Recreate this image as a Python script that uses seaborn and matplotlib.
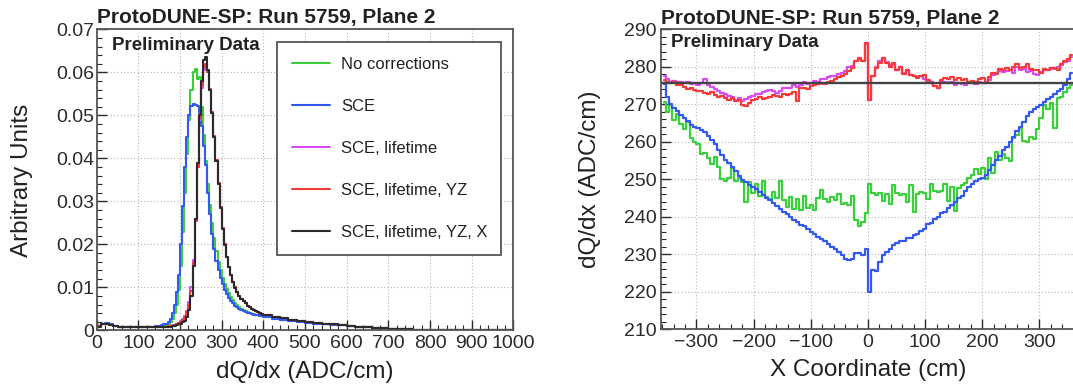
import numpy as np
import pandas as pd
import matplotlib
matplotlib.use('Agg')
import matplotlib.pyplot as plt
import matplotlib.ticker as mticker
import seaborn as sns

# ---- left panel: dQ/dx distributions (bin heights, arbitrary units) ----
# binning: 10 ADC/cm up to 150, 5 ADC/cm through the peak, 20 ADC/cm in the tail
dqdx_edges = np.concatenate([np.arange(0, 150, 10), np.arange(150, 400, 5), np.arange(400, 1001, 20)])
dqdx_centers = (dqdx_edges[:-1] + dqdx_edges[1:]) / 2

h_nocorr = [0.0010, 0.0015, 0.0016, 0.0013, 0.0010, 0.0009, 0.0008, 0.0008, 0.0008, 0.0008,
            0.0008, 0.0008, 0.0008, 0.0009, 0.0009,
            0.0010, 0.0010, 0.0011, 0.0013, 0.0016, 0.0020, 0.0027, 0.0040, 0.0060, 0.0095,
            0.0150, 0.0230, 0.0320, 0.0410, 0.0490, 0.0560, 0.0600, 0.0607, 0.0585, 0.0590,
            0.0520, 0.0455, 0.0395, 0.0340, 0.0292, 0.0250, 0.0215, 0.0185, 0.0160, 0.0140,
            0.0123, 0.0109, 0.0097, 0.0087, 0.0078, 0.0071, 0.0065, 0.0060, 0.0055, 0.0051,
            0.0048, 0.0045, 0.0043, 0.0041, 0.0039, 0.0038, 0.0036, 0.0035, 0.0034, 0.0033,
            0.0031, 0.0027, 0.0024, 0.0022, 0.0020, 0.0018, 0.0016, 0.0015, 0.0013, 0.0012,
            0.0010, 0.0009, 0.0008, 0.0006, 0.0005, 0.0004, 0.0003, 0.0003, 0.0002, 0.0002,
            0.0002, 0.0001, 0.0001, 0.0001, 0.0001, 0.0001, 0.0001, 0.0001, 0.0001, 0.0001]
h_sce = [0.0011, 0.0016, 0.0017, 0.0014, 0.0011, 0.0009, 0.0009, 0.0008, 0.0008, 0.0008,
         0.0008, 0.0009, 0.0009, 0.0009, 0.0010,
         0.0011, 0.0012, 0.0014, 0.0016, 0.0020, 0.0027, 0.0040, 0.0060, 0.0090, 0.0130,
         0.0200, 0.0290, 0.0380, 0.0450, 0.0500, 0.0522, 0.0527, 0.0525, 0.0521, 0.0505,
         0.0475, 0.0430, 0.0385, 0.0320, 0.0270, 0.0225, 0.0190, 0.0162, 0.0140, 0.0122,
         0.0107, 0.0095, 0.0085, 0.0076, 0.0069, 0.0063, 0.0058, 0.0054, 0.0051, 0.0048,
         0.0045, 0.0043, 0.0041, 0.0040, 0.0038, 0.0037, 0.0036, 0.0035, 0.0034, 0.0033,
         0.0031, 0.0027, 0.0024, 0.0022, 0.0020, 0.0018, 0.0016, 0.0015, 0.0013, 0.0012,
         0.0010, 0.0009, 0.0007, 0.0006, 0.0005, 0.0004, 0.0003, 0.0003, 0.0002, 0.0002,
         0.0002, 0.0001, 0.0001, 0.0001, 0.0001, 0.0001, 0.0001, 0.0001, 0.0001, 0.0001]
h_sce_lt = [0.0010, 0.0015, 0.0016, 0.0013, 0.0010, 0.0009, 0.0008, 0.0008, 0.0008, 0.0008,
            0.0008, 0.0008, 0.0008, 0.0008, 0.0008,
            0.0008, 0.0008, 0.0009, 0.0009, 0.0010, 0.0011, 0.0012, 0.0013, 0.0015, 0.0018,
            0.0022, 0.0027, 0.0034, 0.0046, 0.0066, 0.0100, 0.0165, 0.0260, 0.0380, 0.0490,
            0.0565, 0.0605, 0.0615, 0.0600, 0.0560, 0.0505, 0.0450, 0.0395, 0.0340, 0.0287,
            0.0237, 0.0200, 0.0171, 0.0148, 0.0129, 0.0113, 0.0100, 0.0090, 0.0081, 0.0074,
            0.0068, 0.0063, 0.0058, 0.0054, 0.0051, 0.0048, 0.0045, 0.0043, 0.0041, 0.0039,
            0.0036, 0.0032, 0.0028, 0.0025, 0.0022, 0.0020, 0.0018, 0.0016, 0.0014, 0.0012,
            0.0010, 0.0009, 0.0008, 0.0006, 0.0005, 0.0004, 0.0003, 0.0003, 0.0002, 0.0002,
            0.0002, 0.0001, 0.0001, 0.0001, 0.0001, 0.0001, 0.0001, 0.0001, 0.0001, 0.0001]
h_sce_lt_yz = [0.0010, 0.0015, 0.0016, 0.0013, 0.0010, 0.0009, 0.0008, 0.0008, 0.0008, 0.0008,
               0.0008, 0.0008, 0.0008, 0.0008, 0.0008,
               0.0008, 0.0008, 0.0009, 0.0009, 0.0010, 0.0010, 0.0011, 0.0012, 0.0014, 0.0017,
               0.0020, 0.0025, 0.0031, 0.0042, 0.0060, 0.0092, 0.0158, 0.0255, 0.0380, 0.0495,
               0.0572, 0.0612, 0.0620, 0.0602, 0.0562, 0.0507, 0.0452, 0.0397, 0.0342, 0.0288,
               0.0238, 0.0200, 0.0171, 0.0148, 0.0129, 0.0113, 0.0100, 0.0090, 0.0081, 0.0074,
               0.0068, 0.0063, 0.0058, 0.0054, 0.0051, 0.0048, 0.0045, 0.0043, 0.0041, 0.0039,
               0.0036, 0.0032, 0.0028, 0.0025, 0.0022, 0.0020, 0.0018, 0.0016, 0.0014, 0.0012,
               0.0010, 0.0009, 0.0008, 0.0006, 0.0005, 0.0004, 0.0003, 0.0003, 0.0002, 0.0002,
               0.0002, 0.0001, 0.0001, 0.0001, 0.0001, 0.0001, 0.0001, 0.0001, 0.0001, 0.0001]
h_sce_lt_yz_x = [0.0009, 0.0014, 0.0015, 0.0012, 0.0010, 0.0008, 0.0008, 0.0007, 0.0007, 0.0007,
                 0.0007, 0.0007, 0.0007, 0.0007, 0.0007,
                 0.0007, 0.0008, 0.0008, 0.0008, 0.0009, 0.0009, 0.0010, 0.0011, 0.0012, 0.0014,
                 0.0016, 0.0019, 0.0023, 0.0032, 0.0048, 0.0080, 0.0150, 0.0260, 0.0390, 0.0500,
                 0.0580, 0.0630, 0.0636, 0.0605, 0.0560, 0.0505, 0.0450, 0.0395, 0.0340, 0.0285,
                 0.0235, 0.0198, 0.0170, 0.0147, 0.0128, 0.0112, 0.0099, 0.0089, 0.0081, 0.0074,
                 0.0068, 0.0063, 0.0058, 0.0054, 0.0051, 0.0048, 0.0045, 0.0043, 0.0041, 0.0039,
                 0.0036, 0.0032, 0.0028, 0.0025, 0.0022, 0.0020, 0.0018, 0.0016, 0.0014, 0.0012,
                 0.0010, 0.0009, 0.0008, 0.0006, 0.0005, 0.0004, 0.0003, 0.0003, 0.0002, 0.0002,
                 0.0002, 0.0001, 0.0001, 0.0001, 0.0001, 0.0001, 0.0001, 0.0001, 0.0001, 0.0001]

# ---- right panel: mean dQ/dx vs drift coordinate, 6 cm bins ----
x_centers = np.arange(-357, 358, 6)

p_nocorr = [270.5, 268.0, 269.8, 265.8, 267.5, 264.6, 263.5, 265.2, 261.0, 260.0,
            259.4, 256.8, 257.0, 255.6, 254.0, 256.0, 253.2, 250.0, 249.5, 250.4,
            253.0, 249.6, 250.2, 249.2, 243.8, 249.3, 246.2, 248.8, 245.4, 249.6,
            245.2, 244.8, 246.6, 245.0, 249.6, 244.4, 242.6, 245.2, 242.0, 244.6,
            241.8, 245.5, 242.4, 243.0, 241.8, 245.0, 247.0, 244.6, 244.0, 245.2,
            244.4, 246.0, 243.4, 243.6, 243.2, 245.6, 239.2, 237.4, 238.6, 241.0,
            248.6, 246.2, 245.8, 246.4, 244.2, 246.0, 243.4, 248.4, 246.2, 245.8,
            246.0, 244.0, 248.4, 241.2, 246.0, 246.6, 246.4, 244.6, 248.6, 246.8,
            246.6, 246.9, 248.6, 244.2, 247.8, 241.6, 247.6, 248.4, 249.0, 250.2,
            251.0, 252.6, 251.4, 253.0, 250.0, 255.6, 251.6, 257.2, 255.0, 256.6,
            255.6, 254.8, 261.0, 261.8, 263.6, 260.2, 260.0, 261.2, 260.8, 263.4,
            266.2, 269.8, 268.8, 270.2, 263.6, 271.6, 272.0, 273.2, 274.2, 275.0]
p_sce = [275.5, 272.0, 270.0, 269.0, 268.2, 267.2, 266.3, 265.4, 264.5, 264.0,
         263.6, 263.2, 262.6, 261.6, 260.4, 259.3, 257.8, 256.4, 255.2, 254.3,
         253.2, 252.3, 250.8, 249.8, 249.2, 248.5, 247.9, 247.3, 246.5, 245.8,
         245.0, 244.4, 243.6, 242.9, 242.1, 241.3, 240.6, 239.8, 239.2, 238.5,
         237.9, 237.4, 236.6, 236.0, 235.5, 234.6, 234.1, 233.5, 232.8, 232.0,
         231.5, 230.6, 229.8, 228.6, 228.5, 228.6, 230.2, 230.4, 229.8, 231.5,
         220.0, 225.8, 225.4, 228.0, 229.8, 230.6, 231.5, 232.4, 233.0, 233.4,
         233.6, 234.2, 234.4, 235.0, 235.4, 236.3, 236.6, 238.0, 238.4, 239.4,
         239.8, 240.9, 241.2, 242.3, 243.0, 243.8, 245.0, 245.6, 246.8, 247.8,
         248.6, 249.4, 250.0, 250.4, 251.0, 252.4, 253.8, 255.0, 256.2, 257.8,
         258.6, 260.0, 261.2, 262.8, 264.0, 265.2, 266.8, 267.8, 268.6, 269.2,
         269.8, 270.6, 271.4, 272.0, 272.8, 273.4, 274.0, 275.0, 276.8, 278.4]
p_sce_lt = [277.4, 276.6, 276.0, 276.2, 275.8, 276.0, 275.6, 275.8, 275.4, 275.6,
            275.2, 275.6, 276.8, 275.0, 274.6, 274.0, 273.6, 273.0, 272.6, 272.2,
            271.8, 271.2, 271.6, 270.8, 271.4, 272.0, 272.2, 272.6, 272.6, 273.2,
            273.6, 273.8, 273.4, 273.0, 273.6, 274.2, 274.4, 274.2, 275.0, 274.6,
            275.2, 275.8, 275.4, 275.6, 276.2, 276.0, 276.6, 276.8, 277.2, 277.6,
            277.4, 278.0, 278.4, 278.8, 279.8, 280.2, 281.4, 282.0, 281.6, 286.0,
            271.0, 277.6, 279.8, 281.4, 282.2, 281.2, 280.4, 280.8, 279.2, 279.8,
            278.4, 279.0, 277.8, 277.4, 277.2, 277.6, 276.6, 275.8, 276.0, 274.8,
            274.4, 275.8, 276.0, 275.6, 275.8, 275.2, 275.6, 275.4, 275.2, 275.6,
            276.0, 275.4, 276.0, 275.6, 275.8, 276.4, 277.8, 278.4, 278.8, 278.6,
            278.8, 279.2, 278.4, 279.8, 279.0, 279.4, 278.6, 278.8, 278.0, 277.8,
            278.6, 279.0, 279.2, 279.6, 279.4, 280.0, 280.4, 281.2, 281.6, 282.6]
p_sce_lt_yz = [276.4, 276.0, 275.6, 275.8, 275.0, 275.2, 274.6, 274.0, 274.4, 273.8,
               273.4, 273.6, 273.0, 272.8, 273.2, 272.4, 272.0, 272.2, 271.6, 271.2,
               271.6, 270.8, 271.0, 269.8, 269.6, 270.4, 271.0, 271.4, 271.8, 271.4,
               271.6, 272.0, 272.4, 272.2, 272.0, 272.6, 272.4, 272.8, 273.2, 270.8,
               274.2, 274.4, 274.0, 274.8, 275.0, 275.4, 275.6, 275.4, 276.0, 276.2,
               276.6, 277.2, 277.4, 278.0, 278.8, 279.6, 281.6, 282.2, 281.4, 286.2,
               271.0, 277.4, 279.6, 281.0, 282.2, 281.0, 280.0, 281.0, 279.0, 280.0,
               278.0, 279.0, 277.8, 277.4, 277.0, 277.4, 277.8, 276.4, 275.6, 274.8,
               274.4, 276.4, 277.0, 276.8, 277.2, 276.4, 277.0, 276.4, 276.6, 276.0,
               276.2, 276.0, 276.6, 277.0, 275.6, 277.2, 278.2, 278.0, 279.4, 279.2,
               279.6, 279.2, 280.0, 280.8, 279.6, 279.8, 280.6, 279.4, 279.2, 279.0,
               278.4, 279.4, 279.0, 279.6, 279.6, 279.2, 280.8, 281.6, 282.0, 283.2]
# after the X correction the profile is flat
p_sce_lt_yz_x_level = 275.6

labels = ['No corrections', 'SCE', 'SCE, lifetime', 'SCE, lifetime, YZ', 'SCE, lifetime, YZ, X']
colors = ['#3ccf3c', '#3358f4', '#d94cf5', '#f53a3a', '#2b2b2b']

sns.set_theme(style='ticks')
plt.rcParams['font.family'] = ['Liberation Sans', 'DejaVu Sans']
plt.rcParams['axes.unicode_minus'] = True

fig = plt.figure(figsize=(10.73, 3.85), dpi=100)
ax1 = fig.add_axes([0.0901, 0.1416, 0.3883, 0.7818])
ax2 = fig.add_axes([0.6160, 0.1449, 0.3858, 0.7792])


def style_axes(ax):
    ax.set_axisbelow(True)
    ax.grid(True, which='major', color='#b8b8b8', linestyle=(0, (1, 2)), linewidth=0.8)
    ax.tick_params(which='both', direction='in', colors='#2a2a2a', labelsize=14,
                   top=False, right=False)
    ax.tick_params(which='major', length=7, width=1)
    ax.tick_params(which='minor', length=3.5, width=0.8)
    for s in ax.spines.values():
        s.set_color('#555555')
        s.set_linewidth(1.3)


# left: step histograms
hist_sets = [h_nocorr, h_sce, h_sce_lt, h_sce_lt_yz, h_sce_lt_yz_x]
for vals, col, lab in zip(hist_sets, colors, labels):
    df_h = pd.DataFrame({'dqdx': dqdx_centers, 'height': vals})
    sns.histplot(data=df_h, x='dqdx', weights='height', bins=list(dqdx_edges), element='step',
                 fill=False, color=col, linewidth=1.5, label=lab, ax=ax1)

style_axes(ax1)
ax1.set_xlim(0, 1000)
ax1.set_ylim(0, 0.07)
ax1.xaxis.set_major_locator(mticker.MultipleLocator(100))
ax1.xaxis.set_minor_locator(mticker.MultipleLocator(20))
ax1.yaxis.set_major_locator(mticker.MultipleLocator(0.01))
ax1.yaxis.set_minor_locator(mticker.MultipleLocator(0.002))
ax1.yaxis.set_major_formatter(mticker.FuncFormatter(lambda v, p: '0' if abs(v) < 1e-9 else f'{v:.2f}'))
ax1.tick_params(axis='y', pad=2)
ax1.set_xlabel('dQ/dx (ADC/cm)', fontsize=17.5, color='#222222')
ax1.set_ylabel('Arbitrary Units', fontsize=17.5, color='#222222')
ax1.xaxis.set_label_coords(0.5, -0.10)
ax1.yaxis.set_label_coords(-0.153, 0.5)
ax1.text(0, 1.008, 'ProtoDUNE-SP: Run 5759, Plane 2', transform=ax1.transAxes,
         ha='left', va='bottom', fontsize=15, fontweight='bold', color='#222222')
ax1.text(0.037, 0.948, 'Preliminary Data', transform=ax1.transAxes,
         ha='left', va='center', fontsize=13.5, fontweight='bold', color='#222222')
leg = ax1.legend(loc='upper left', bbox_to_anchor=(0.433, 0.96, 0.537, 0.0), mode='expand',
                 fontsize=12, frameon=True, fancybox=False, edgecolor='#555555', framealpha=1,
                 handlelength=2.25, handletextpad=0.7, labelspacing=1.62, borderpad=0.9,
                 borderaxespad=0)
leg.get_frame().set_linewidth(1.3)
for t in leg.get_texts():
    t.set_color('#222222')

# right: profiles vs X
prof_sets = [p_nocorr, p_sce, p_sce_lt, p_sce_lt_yz]
for vals, col in zip(prof_sets, colors[:4]):
    df_p = pd.DataFrame({'x': x_centers, 'dqdx': vals})
    sns.lineplot(data=df_p, x='x', y='dqdx', drawstyle='steps-mid', color=col, linewidth=1.6,
                 estimator=None, ax=ax2)
ax2.axhline(p_sce_lt_yz_x_level, color='#444444', linewidth=1.7)

style_axes(ax2)
ax2.spines['right'].set_visible(False)
ax2.set_xlim(-362, 362)
ax2.set_ylim(210, 290)
ax2.xaxis.set_major_locator(mticker.MultipleLocator(100))
ax2.xaxis.set_minor_locator(mticker.MultipleLocator(20))
ax2.yaxis.set_major_locator(mticker.MultipleLocator(10))
ax2.yaxis.set_minor_locator(mticker.MultipleLocator(2))
ax2.tick_params(axis='y', pad=3)
ax2.set_xlabel('X Coordinate (cm)', fontsize=17.5, color='#222222')
ax2.set_ylabel('dQ/dx (ADC/cm)', fontsize=17.5, color='#222222')
ax2.xaxis.set_label_coords(0.5, -0.10)
ax2.yaxis.set_label_coords(-0.145, 0.5)
ax2.text(0, 1.003, 'ProtoDUNE-SP: Run 5759, Plane 2', transform=ax2.transAxes,
         ha='left', va='bottom', fontsize=15, fontweight='bold', color='#222222')
ax2.text(0.024, 0.956, 'Preliminary Data', transform=ax2.transAxes,
         ha='left', va='center', fontsize=13.5, fontweight='bold', color='#222222')

fig.savefig('out.png', dpi=100)
